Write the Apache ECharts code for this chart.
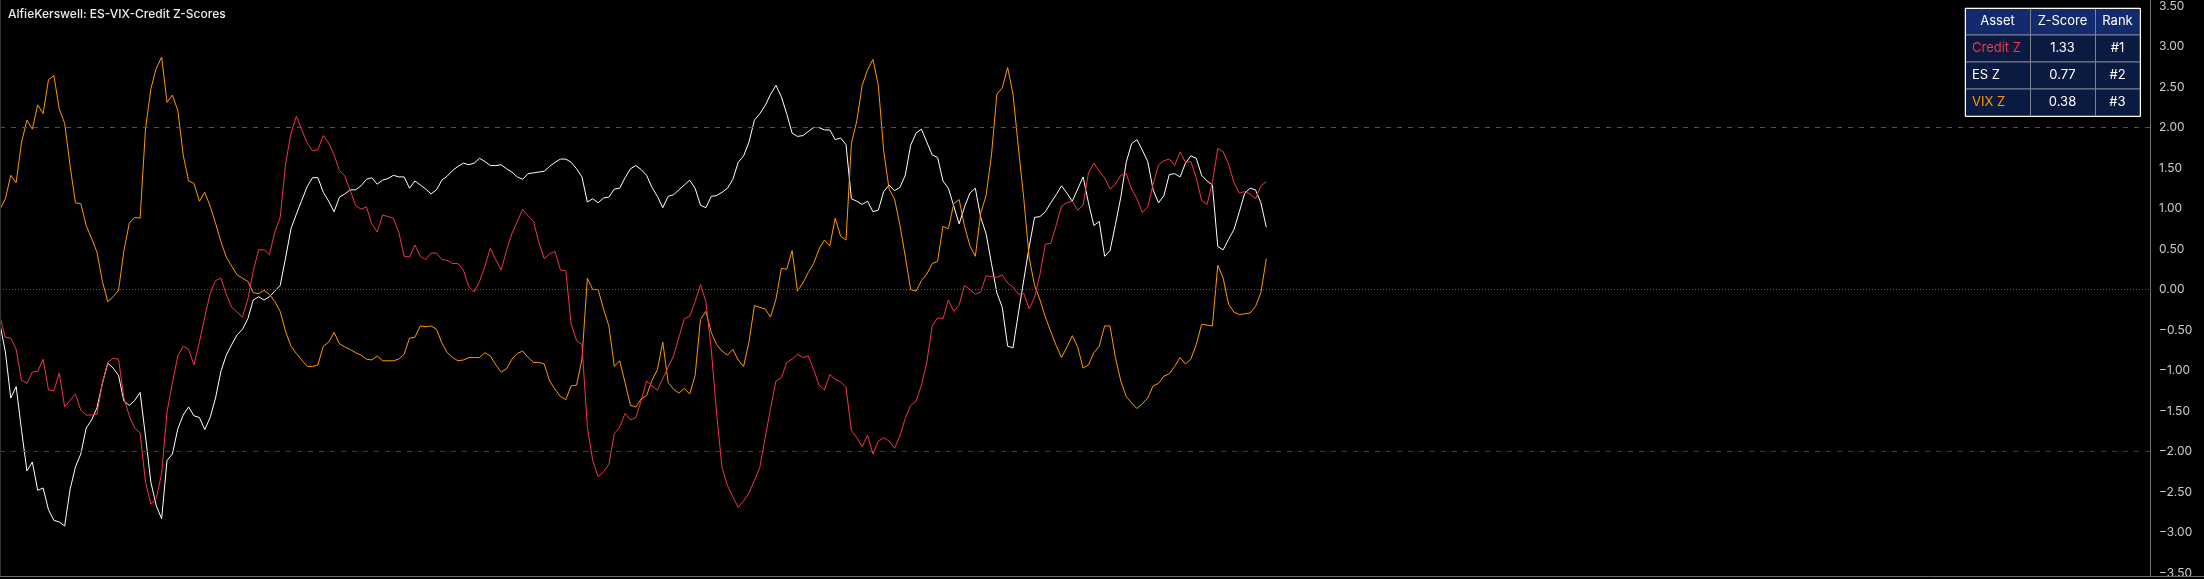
<!DOCTYPE html>
<html><head><meta charset="utf-8">
<script src="https://cdn.jsdelivr.net/npm/echarts@6/dist/echarts.min.js"></script>
<style>html,body{margin:0;padding:0;background:#000;overflow:hidden}#c{width:2204px;height:579px}</style>
</head><body><div id="c"></div>
<script>
const chartTitle = 'AlfieKerswell: ES-VIX-Credit Z-Scores';
const esZ = [-0.43,-0.77,-1.34,-1.20,-1.74,-2.24,-2.13,-2.48,-2.45,-2.72,-2.85,-2.87,-2.92,-2.47,-2.19,-2.03,-1.71,-1.61,-1.46,-1.16,
-0.91,-0.97,-1.06,-1.38,-1.43,-1.37,-1.27,-1.81,-2.38,-2.67,-2.83,-2.11,-2.03,-1.72,-1.55,-1.45,-1.56,-1.58,-1.73,-1.58,
-1.34,-1.01,-0.81,-0.68,-0.56,-0.49,-0.36,-0.13,-0.09,-0.13,-0.09,-0.02,0.05,0.39,0.75,0.93,1.10,1.27,1.38,1.38,
1.20,1.09,0.96,1.14,1.18,1.23,1.23,1.28,1.36,1.38,1.30,1.35,1.37,1.41,1.39,1.39,1.25,1.34,1.29,1.24,
1.18,1.23,1.35,1.40,1.47,1.52,1.56,1.54,1.56,1.62,1.58,1.53,1.53,1.54,1.49,1.45,1.39,1.36,1.43,1.44,
1.45,1.46,1.52,1.57,1.61,1.61,1.57,1.49,1.39,1.08,1.12,1.07,1.13,1.14,1.24,1.25,1.38,1.49,1.53,1.48,
1.41,1.26,1.15,1.01,1.15,1.17,1.23,1.29,1.35,1.25,1.04,1.01,1.15,1.16,1.20,1.25,1.36,1.57,1.65,1.82,
2.09,2.17,2.27,2.41,2.52,2.38,2.17,1.93,1.89,1.90,1.95,2.00,2.00,1.97,1.97,1.85,1.87,1.79,1.12,1.09,
1.05,1.09,0.96,0.98,1.21,1.29,1.22,1.26,1.41,1.78,1.93,1.98,1.82,1.66,1.63,1.34,1.25,1.03,0.81,1.02,
1.19,1.25,0.89,0.69,0.32,-0.04,-0.22,-0.70,-0.72,-0.29,0.12,0.53,0.89,0.90,0.96,1.07,1.17,1.28,1.19,1.09,
1.24,1.39,1.07,0.79,0.84,0.41,0.48,0.80,1.14,1.57,1.80,1.85,1.72,1.58,1.23,1.07,1.16,1.42,1.43,1.39,
1.56,1.65,1.62,1.41,1.34,1.29,0.53,0.49,0.62,0.74,0.96,1.19,1.25,1.23,1.07,0.77];
const vixZ = [0.99,1.12,1.41,1.32,1.82,2.09,1.98,2.28,2.17,2.59,2.64,2.23,2.05,1.53,1.07,1.06,0.79,0.63,0.46,0.10,
-0.15,-0.09,-0.01,0.48,0.82,0.89,0.88,1.98,2.48,2.73,2.87,2.31,2.40,2.21,1.66,1.34,1.31,1.09,1.20,1.03,
0.82,0.59,0.40,0.29,0.18,0.14,0.10,-0.04,-0.05,-0.01,-0.06,-0.15,-0.27,-0.52,-0.70,-0.79,-0.87,-0.95,-0.95,-0.93,
-0.70,-0.65,-0.53,-0.67,-0.71,-0.74,-0.78,-0.81,-0.86,-0.87,-0.82,-0.88,-0.88,-0.88,-0.86,-0.80,-0.60,-0.59,-0.45,-0.46,
-0.45,-0.49,-0.66,-0.78,-0.84,-0.88,-0.87,-0.84,-0.84,-0.84,-0.78,-0.82,-0.93,-1.02,-0.98,-0.86,-0.79,-0.76,-0.84,-0.90,
-0.90,-0.92,-1.13,-1.23,-1.32,-1.36,-1.19,-1.18,-0.86,0.14,0.00,0.00,-0.24,-0.45,-0.95,-0.88,-1.15,-1.43,-1.45,-1.35,
-1.31,-1.12,-0.99,-0.65,-1.15,-1.23,-1.28,-1.22,-1.29,-1.06,-0.37,-0.27,-0.53,-0.68,-0.76,-0.81,-0.74,-0.87,-0.95,-0.65,
-0.20,-0.22,-0.24,-0.34,-0.12,0.26,0.25,0.48,-0.02,0.08,0.21,0.32,0.50,0.61,0.54,0.88,0.66,0.61,1.80,2.08,
2.52,2.71,2.84,2.52,1.71,1.24,1.12,0.80,0.41,0.00,-0.02,0.11,0.19,0.32,0.35,0.78,0.75,1.06,1.11,0.78,
0.54,0.41,0.94,1.16,1.66,2.41,2.49,2.74,2.41,1.75,1.12,0.39,0.05,-0.13,-0.34,-0.52,-0.69,-0.84,-0.71,-0.57,
-0.71,-0.97,-0.93,-0.78,-0.70,-0.45,-0.45,-0.84,-1.13,-1.32,-1.40,-1.47,-1.41,-1.34,-1.19,-1.16,-1.07,-1.04,-0.95,-0.84,
-0.92,-0.86,-0.68,-0.43,-0.44,-0.45,0.30,0.14,-0.18,-0.28,-0.31,-0.30,-0.29,-0.21,-0.04,0.38];
const creditZ = [-0.34,-0.59,-0.60,-0.74,-1.12,-1.16,-1.02,-1.01,-0.86,-1.24,-1.25,-1.03,-1.45,-1.37,-1.29,-1.49,-1.55,-1.55,-1.54,-1.15,
-0.90,-0.85,-0.86,-1.34,-1.56,-1.71,-1.77,-2.38,-2.65,-2.58,-2.27,-1.51,-1.15,-0.82,-0.70,-0.74,-0.93,-0.65,-0.34,-0.05,
0.11,0.14,-0.06,-0.22,-0.28,-0.34,-0.12,0.23,0.49,0.49,0.43,0.71,0.89,1.55,1.93,2.14,1.97,1.81,1.71,1.73,
1.90,1.81,1.66,1.47,1.40,1.22,1.04,0.99,1.02,0.81,0.71,0.92,0.90,0.88,0.71,0.41,0.40,0.55,0.41,0.37,
0.45,0.45,0.37,0.36,0.32,0.32,0.24,0.03,-0.03,0.10,0.29,0.51,0.37,0.24,0.48,0.69,0.84,0.99,0.91,0.84,
0.58,0.38,0.44,0.47,0.24,0.23,-0.43,-0.63,-0.68,-1.70,-2.11,-2.31,-2.25,-2.16,-1.78,-1.70,-1.53,-1.61,-1.58,-1.37,
-1.13,-1.19,-1.24,-1.10,-0.96,-0.82,-0.59,-0.36,-0.33,-0.15,0.06,-0.15,-0.74,-1.54,-2.20,-2.42,-2.56,-2.69,-2.61,-2.51,
-2.36,-2.20,-1.83,-1.47,-1.13,-1.09,-0.90,-0.86,-0.80,-0.84,-0.82,-0.99,-1.18,-1.24,-1.05,-1.11,-1.14,-1.21,-1.74,-1.83,
-1.94,-1.80,-2.03,-1.87,-1.83,-1.87,-1.96,-1.81,-1.59,-1.43,-1.38,-1.18,-0.90,-0.45,-0.35,-0.36,-0.13,-0.27,-0.19,0.05,
0.00,-0.06,-0.03,0.17,0.16,0.15,0.18,0.08,0.03,-0.06,-0.05,-0.24,-0.10,0.19,0.56,0.57,0.79,1.03,1.07,1.09,
0.98,1.04,1.44,1.56,1.46,1.38,1.24,1.30,1.41,1.43,1.24,1.12,0.95,1.02,1.30,1.54,1.59,1.61,1.53,1.70,
1.57,1.58,1.38,1.10,1.05,1.32,1.74,1.70,1.55,1.32,1.19,1.21,1.18,1.12,1.28,1.33];

const barSlots = 399;            // visible bar slots across the pane (right side is empty future space)
const yTicks = {min: -3.5, max: 3.5, step: 0.5};
const levelLines = {upper: 2, zero: 0, lower: -2};
const tableHeader = ['Asset', 'Z-Score', 'Rank'];
const assets = [
  {name: 'ES Z', data: esZ, color: '#ffffff'},
  {name: 'VIX Z', data: vixZ, color: '#ff9800'},
  {name: 'Credit Z', data: creditZ, color: '#f23645'}
];

const chart = echarts.init(document.getElementById('c'), null, {renderer: 'canvas'});
const FONT = 'Inter, "Noto Sans", sans-serif';

// table built from the last value of each series
const ranked = assets.map(a => ({name: a.name, color: a.color, v: a.data[a.data.length - 1]}))
  .sort((a, b) => b.v - a.v);
const tbl = {x: 1965, y: 8, colW: [65, 65, 45], rowH: 27};
const tableEls = [];
const totalW = tbl.colW.reduce((s, w) => s + w, 0);
const totalH = tbl.rowH * (ranked.length + 1);
for (let r = 0; r <= ranked.length; r++) {
  tableEls.push({type: 'rect', shape: {x: tbl.x, y: tbl.y + r * tbl.rowH, width: totalW, height: tbl.rowH},
    style: {fill: r === 0 ? '#132b6c' : '#0b1a40', stroke: '#7d8291', lineWidth: 1}});
}
let cx = tbl.x;
tbl.colW.forEach((w, ci) => {
  if (ci > 0) tableEls.push({type: 'line', shape: {x1: cx + 0.5, y1: tbl.y, x2: cx + 0.5, y2: tbl.y + totalH}, style: {stroke: '#7d8291', lineWidth: 1}});
  tableEls.push({type: 'text', style: {text: tableHeader[ci], x: cx + w / 2, y: tbl.y + tbl.rowH / 2, align: 'center', verticalAlign: 'middle', fill: '#ffffff', font: '13px ' + FONT}});
  ranked.forEach((row, ri) => {
    const cells = [row.name, row.v.toFixed(2), '#' + (ri + 1)];
    const yy = tbl.y + (ri + 1) * tbl.rowH + tbl.rowH / 2;
    tableEls.push({type: 'text', style: {text: cells[ci], x: ci === 0 ? cx + 7 : cx + w / 2, y: yy,
      align: ci === 0 ? 'left' : 'center', verticalAlign: 'middle', fill: ci === 0 ? row.color : '#ffffff', font: '13px ' + FONT}});
  });
  cx += w;
});
tableEls.push({type: 'rect', shape: {x: tbl.x + 0.5, y: tbl.y + 0.5, width: totalW, height: totalH}, style: {fill: 'none', stroke: '#ffffff', lineWidth: 1}});

const series = assets.map((a, k) => ({
  name: a.name, type: 'line', data: a.data.map((v, i) => [i, v]), showSymbol: false, symbol: 'none',
  lineStyle: {color: a.color, width: 1}, z: 3 + k, animation: false,
  markLine: k === 0 ? {silent: true, symbol: 'none', label: {show: false}, animation: false,
    data: [
      {yAxis: levelLines.upper, lineStyle: {color: '#2d6b35', width: 1, type: [5, 6]}},
      {yAxis: levelLines.zero, lineStyle: {color: '#5f5f5f', width: 1, type: [1, 2]}},
      {yAxis: levelLines.lower, lineStyle: {color: '#8a1d22', width: 1, type: [5, 6]}}
    ]} : undefined
}));

chart.setOption({
  backgroundColor: '#000000',
  animation: false,
  grid: {left: 0, right: 54, top: 5.6, bottom: 4.2},
  xAxis: {type: 'value', min: 0, max: barSlots, show: false},
  yAxis: {type: 'value', position: 'right', min: yTicks.min, max: yTicks.max, interval: yTicks.step,
    axisLine: {show: false}, axisTick: {show: false}, splitLine: {show: false},
    axisLabel: {show: true, showMinLabel: true, showMaxLabel: true, color: '#c9ccd4', fontSize: 12, margin: 9, fontFamily: FONT,
      formatter: v => v.toFixed(2).replace('-', '\u2212')}},
  series: series,
  graphic: [
    {type: 'line', shape: {x1: 2150.5, y1: 0, x2: 2150.5, y2: 576}, style: {stroke: '#6a6d78', lineWidth: 1}, z: 10},
    {type: 'line', shape: {x1: 0, y1: 576.5, x2: 2204, y2: 576.5}, style: {stroke: '#6a6d78', lineWidth: 1}, z: 10},
    {type: 'line', shape: {x1: 0.5, y1: 0, x2: 0.5, y2: 576}, style: {stroke: '#333333', lineWidth: 1}, z: 10},
    {type: 'text', style: {text: chartTitle, x: 8, y: 14, verticalAlign: 'middle', fill: '#ececec', font: '500 12px ' + FONT}, z: 10},
    {type: 'group', children: tableEls, z: 20}
  ]
});
</script></body></html>
